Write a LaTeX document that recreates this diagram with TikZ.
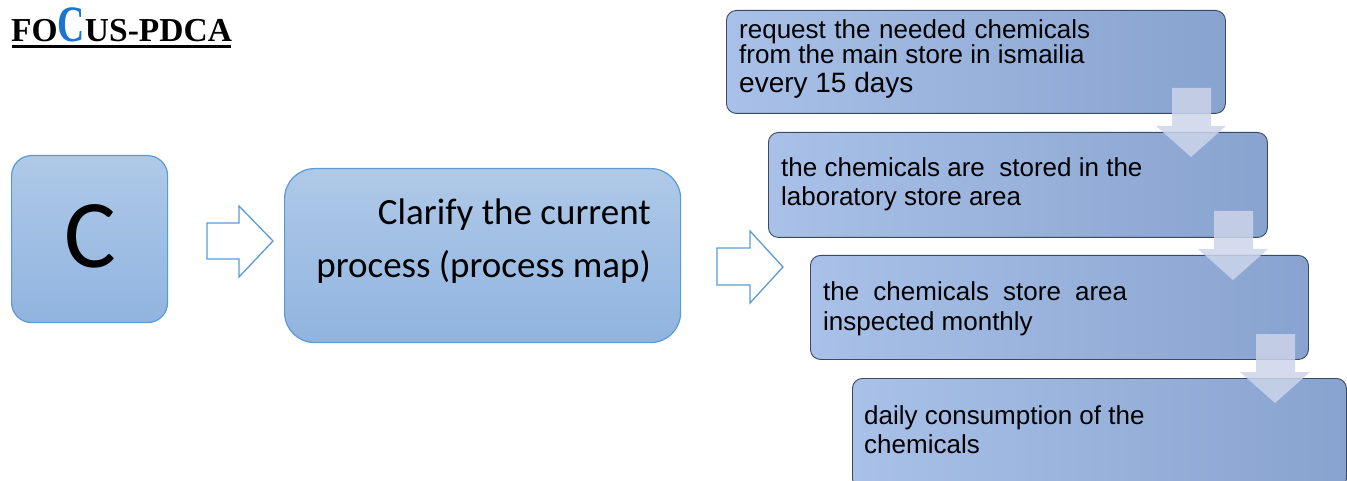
\documentclass[tikz,border=0pt]{standalone}
\usepackage{fontspec}
\setmainfont{Liberation Sans}
\newfontfamily\calib{Carlito}
\newfontfamily\tms{Liberation Serif}
\definecolor{lboxtop}{HTML}{AFC9E8}
\definecolor{lboxbot}{HTML}{90B4E0}
\definecolor{lboxline}{HTML}{5B9BD5}
\definecolor{rboxl}{HTML}{A9C1E8}
\definecolor{rboxr}{HTML}{88A3CF}
\definecolor{rboxline}{HTML}{3A4A63}
\definecolor{darrow}{HTML}{CCD5E9}
\definecolor{titleblue}{HTML}{1C75CF}
\tikzset{
  lbox/.style={draw=lboxline, line width=1.2pt, top color=lboxtop, bottom color=lboxbot, anchor=north west, inner sep=0pt},
  rbox/.style={draw=rboxline, line width=0.9pt, left color=rboxl, right color=rboxr, rounded corners=10pt, anchor=north west, inner sep=0pt},
  hollowarrow/.style={draw=lboxline, line width=1.3pt, fill=white, line join=miter},
  downarrow/.style={fill=darrow, fill opacity=0.85, draw=none},
  rtext/.style={anchor=base west, inner sep=0pt, font=\fontsize{26}{26}\selectfont},
  ltext/.style={anchor=base east, inner sep=0pt, font=\calib\fontsize{37}{37}\selectfont},
}
\begin{document}
\begin{tikzpicture}[x=1pt,y=-1pt]
\useasboundingbox (0,0) rectangle (1347,481);
% title
\node[anchor=base west, inner sep=0pt, font=\tms\bfseries\fontsize{33.5}{33.5}\selectfont] (title) at (11,41.5)
  {FO\textcolor{titleblue}{\fontsize{51}{51}\selectfont\scalebox{0.74}[1]{C}}US-PDCA};
\coordinate (ulA) at (12,46.3);
\coordinate (ulB) at (231,46.3);
\draw[line width=3pt] (ulA) -- (ulB);

% left boxes
\node[lbox, rounded corners=20pt, minimum width=156pt, minimum height=167pt] (cbox) at (11,155) {};
\node[inner sep=0pt, font=\calib\fontsize{97}{97}\selectfont] (ctext) at (90,236) {C};
\node[lbox, rounded corners=30pt, minimum width=396pt, minimum height=174pt] (pbox) at (284,168) {};
\node[ltext] (p1) at (651,225) {Clarify the current};
\node[ltext] (p2) at (651,277) {process (process map)};

% hollow arrows
\path[hollowarrow] (207,223) -- (239,223) -- (239,206) -- (273,241) -- (239,277) -- (239,259) -- (207,259) -- cycle;
\path[hollowarrow] (717,248) -- (750,248) -- (750,231) -- (783,267) -- (750,303) -- (750,285) -- (717,285) -- cycle;

% right boxes
\node[rbox, minimum width=499pt, minimum height=103pt] (r1) at (726,10) {};
\node[rbox, minimum width=499pt, minimum height=105pt] (r2) at (768,132) {};
\node[rbox, minimum width=498pt, minimum height=104pt] (r3) at (810,255) {};
\node[rbox, minimum width=494pt, minimum height=110pt] (r4) at (852,378) {};

% down arrows
\foreach \i/\dx/\dy in {1/0/0, 2/42/123, 3/84/246}{
  \path[downarrow, shift={(\dx,\dy)}] (1172,88) -- (1211,88) -- (1211,126) -- (1226,126) -- (1191,157) -- (1156,126) -- (1172,126) -- cycle;
}

% texts
\node[rtext] (t11) at (739,39) {\makebox[351pt][s]{request the needed chemicals}};
\node[rtext] (t12) at (739,64) {from the main store in ismailia};
\node[rtext, font=\fontsize{28}{28}\selectfont] (t13) at (739,93) {every 15 days};
\node[rtext] (t21) at (781,177) {the chemicals are\ \ stored in the};
\node[rtext] (t22) at (781,206) {laboratory store area};
\node[rtext] (t31) at (823,300) {\makebox[304pt][s]{the chemicals store area}};
\node[rtext] (t32) at (823,330) {inspected monthly};
\node[rtext] (t41) at (864,424) {daily consumption of the};
\node[rtext] (t42) at (864,453) {chemicals};
\end{tikzpicture}
\end{document}
